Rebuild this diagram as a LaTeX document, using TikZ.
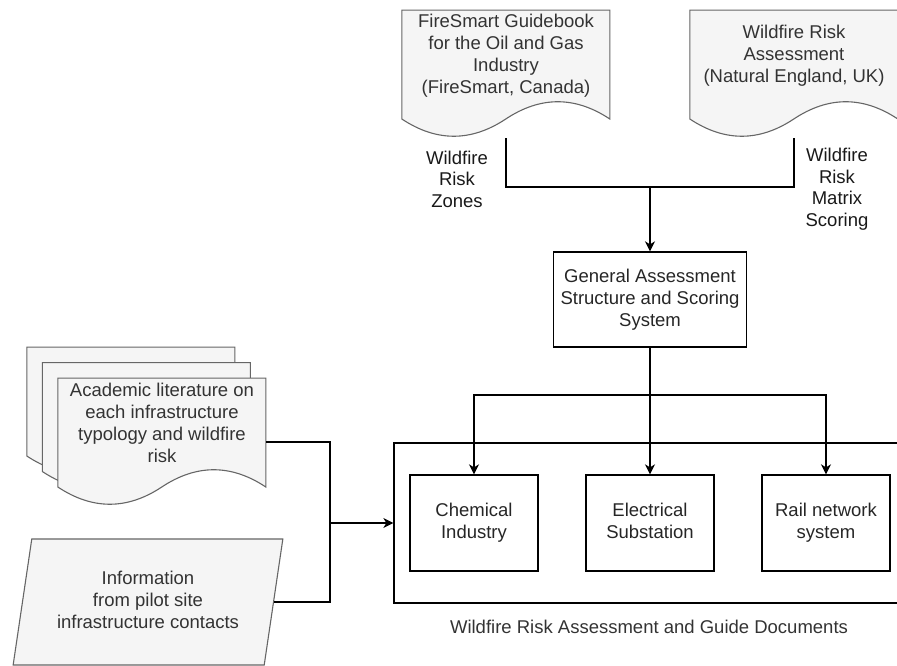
\documentclass[tikz,border=0pt]{standalone}
\usepackage{fontspec}
\setmainfont{Liberation Sans}
\usetikzlibrary{positioning,
	calc,
	shapes.geometric,
	arrows.meta}

\definecolor{docfill}{HTML}{F5F5F5}
\definecolor{docdraw}{HTML}{666666}
\definecolor{doctxt}{HTML}{333333}

% wavy document outline round an (invisible) docbox node
\newcommand{\docoutline}[1]{%
	\draw[docline, shift={(#1.south west)}] (0,128) -- (208,128) -- (208,19.2)
		.. controls (173.3,42.2) and (138.7,42.2) .. (104,19.2)
		.. controls (69.3,-3.8) and (34.7,-3.8) .. (0,19.2) -- cycle;}

\tikzset{
	docline/.style={draw=docdraw, fill=docfill, line width=1.1pt},
	docbox/.style={rectangle, minimum width=208pt, minimum height=128pt, inner sep=0pt},
	doctext/.style={font=\fontsize{18.5}{22}\selectfont, text=doctxt, align=center, inner sep=0pt},
	stage/.style={rectangle, draw=black, line width=1.3pt, align=center, inner sep=0pt,
		font=\fontsize{18.5}{22}\selectfont, text=black!85},
	lbl/.style={font=\fontsize{18.5}{21.5}\selectfont, text=black!90, align=center, inner sep=0pt},
	wire/.style={draw=black, line width=1.3pt},
	flow/.style={wire, -{Stealth[length=10pt, width=10pt, inset=3pt]}}
}

\begin{document}
\begin{tikzpicture}[x=1pt, y=1pt]
	\useasboundingbox (0,0) rectangle (897,666);

	% source documents
	\node[docbox] (fsg) at (506,592) {};
	\docoutline{fsg}
	\node[doctext] (fsg-t) at ([yshift=18pt]fsg.center) {FireSmart Guidebook\\for the Oil and Gas\\Industry\\(FireSmart, Canada)};
	\node[docbox] (wra) at (794,592) {};
	\docoutline{wra}
	\node[doctext] (wra-t) at ([yshift=18pt]wra.center) {Wildfire Risk\\Assessment\\(Natural England, UK)};

	\node[lbl] (zones) at (457,487) {Wildfire\\Risk\\Zones};
	\node[lbl] (matrix) at (837,477) {Wildfire\\Risk\\Matrix\\Scoring};

	\node[stage, minimum width=193pt, minimum height=95pt] (gen) at (650,366.5) {General Assessment\\Structure and Scoring\\System};

	% literature stack
	\node[docbox] (lit-3) at (131,255) {};
	\docoutline{lit-3}
	\node[docbox] (lit-2) at (146.5,239.5) {};
	\docoutline{lit-2}
	\node[docbox] (lit) at (162,224) {};
	\docoutline{lit}
	\node[doctext] (lit-t) at ([yshift=19pt]lit.center) {Academic literature on\\each infrastructure\\typology and wildfire\\risk};

	\node[trapezium, trapezium left angle=76.6, trapezium right angle=103.4, trapezium stretches=true,
		minimum width=270pt, minimum height=126pt, draw=docdraw, fill=docfill, line width=1.1pt,
		doctext] (info) at (148,64) {Information\\from pilot site\\infrastructure contacts\vphantom{y}};

	% guide documents
	\node[stage, minimum width=510pt, minimum height=160pt] (box) at (649,143) {};
	\node[stage, minimum width=128pt, minimum height=96pt] (chem) at (474,143) {Chemical\\Industry};
	\node[stage, minimum width=128pt, minimum height=96pt] (elec) at (650,143) {Electrical\\Substation\vphantom{y}};
	\node[stage, minimum width=128pt, minimum height=96pt] (rail) at (826,143) {Rail network\\system};
	\node[lbl, text=black!80, below=16pt of box] (cap) {Wildfire Risk Assessment and Guide Documents};

	% connectors
	\coordinate (join) at (650,479);
	\draw[wire] (fsg.south) |- (join) -| (wra.south);
	\draw[flow] (join) -- (gen.north);

	\coordinate (split) at (650,271);
	\draw[flow] (gen.south) -- (elec.north);
	\draw[flow] (split) -| (chem.north);
	\draw[flow] (split) -| (rail.north);

	\coordinate (merge) at (330,143);
	\draw[wire] (lit.east) -| (merge);
	\draw[wire] (info.east) -| (merge);
	\draw[flow] (merge) -- (box.west);
\end{tikzpicture}
\end{document}
